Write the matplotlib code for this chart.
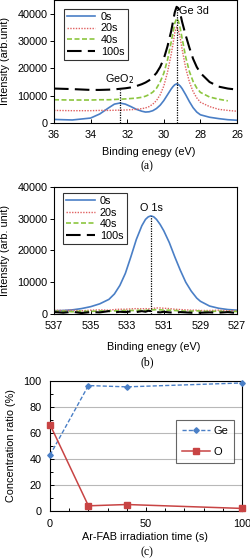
import numpy as np
import matplotlib
matplotlib.use("Agg")
import matplotlib.pyplot as plt
from matplotlib.ticker import MultipleLocator

plt.rcParams['font.family'] = ['Liberation Sans', 'DejaVu Sans']
plt.rcParams['font.size'] = 7.8

# ---- data -------------------------------------------------------------
series_labels = ['0s', '20s', '40s', '100s']

# (a) Ge 3d spectra
ge_x = [36, 35, 34, 33.5, 33, 32.7, 32.4, 32.1, 31.8, 31.5, 31.2, 31, 30.8, 30.6,
        30.4, 30.2, 30, 29.8, 29.6, 29.5, 29.4, 29.3, 29.2, 29.1, 29, 28.8, 28.6,
        28.4, 28.2, 28, 27.5, 27, 26.5, 26]
ge_0s = [1300, 1100, 1800, 3300, 5600, 6900, 7300, 6900, 6000, 5000, 4300, 4000,
         4100, 4500, 5300, 6500, 8200, 10300, 12400, 13300, 14000, 14300, 14100,
         13500, 12600, 10300, 7800, 5600, 4000, 3000, 2100, 1600, 1200, 1000]
ge_20s = [4600, 4500, 4500, 4600, 4600, 4650, 4700, 4750, 4850, 5000, 5250, 5500,
          6000, 6900, 8200, 10300, 13500, 18500, 25000, 28800, 33000, 35100, 33800,
          31000, 27000, 20000, 15000, 11500, 9200, 7600, 6000, 5000, 4600, 4300]
ge_40s = [8500, 8400, 8400, 8500, 8500, 8600, 8700, 8800, 8950, 9100, 9400, 9800,
          10400, 11300, 12700, 15000, 18200, 23000, 29500, 33000, 36500, 38300,
          37200, 34500, 31000, 24000, 18800, 15200, 12800, 11200, 9500, 8700, 8100,
          np.nan]
ge_100s = [12600, 12400, 12100, 12100, 12200, 12300, 12500, 12700, 13000, 13500,
           14200, 14800, 15600, 16800, 18300, 20500, 23500, 28000, 33500, 37000,
           40500, 42500, 42000, 40000, 37000, 32000, 27500, 23500, 20500, 18300,
           15000, 13300, 12600, 12200]
geo2_pos, geo2_top = 32.4, 12000
ge3d_pos, ge3d_top = 29.3, 42500

# (b) O 1s spectra
o_x = [537, 536.5, 536, 535.5, 535, 534.5, 534, 533.7, 533.4, 533.1, 532.8, 532.5,
       532.2, 532, 531.85, 531.7, 531.55, 531.4, 531.2, 531, 530.7, 530.4, 530.1,
       529.8, 529.5, 529.2, 529, 528.5, 528, 527.5, 527]
o_0s = [1000, 1100, 1300, 1700, 2300, 3200, 4600, 6300, 9000, 12800, 18000, 23500,
        27800, 29800, 30600, 30900, 30600, 29800, 28200, 26200, 22500, 18000, 13800,
        10000, 7200, 5000, 4000, 2500, 1800, 1400, 1200]
o_20s = [1200, 1100, 1200, 1000, 1200, 1300, 1200, 1400, 1500, 1500, 1600, 1700,
         1600, 1700, 1600, 1700, 1800, 1900, 1900, 1800, 1700, 1500, 1400, 1300,
         1200, 1200, 1100, 1100, 1200, 1000, 1100]
o_40s = [800, 900, 700, 900, 800, 1000, 900, 1000, 1000, 1100, 1100, 1100,
         1200, 1100, 1200, 1300, 1300, 1400, 1300, 1200, 1200, 1100, 1000, 900,
         900, 1000, 900, 800, 900, 700, 800]
o_100s = [600, 400, 700, 300, 600, 500, 900, 500, 700, 600, 800, 600,
          900, 700, 1000, 900, 700, 600, 500, 700, 500, 400, 600, 500,
          400, 300, 400, 500, 400, 600, 300]
o1s_pos, o1s_top = 531.7, 30900

# (c) concentration ratio
time_s = [0, 20, 40, 100]
ge_ratio = [43, 96.5, 95.5, 98.5]
o_ratio = [66.5, 4, 5, 2]

# ---- styles -----------------------------------------------------------
blue = '#4a7fc6'
red = '#e06060'
green = '#8cc63f'
styles = [
    dict(color=blue, lw=1.2, ls='-'),
    dict(color=red, lw=1.0, ls=(0, (1, 1))),
    dict(color=green, lw=1.2, ls=(0, (3, 1.5))),
    dict(color='black', lw=1.5, ls=(0, (7, 3))),
]

fig = plt.figure(figsize=(2.5, 5.58), dpi=100)

def legend_box(ax, **kw):
    leg = ax.legend(frameon=True, fancybox=False, edgecolor='black',
                    handlelength=2.6, handletextpad=0.5, borderpad=0.3,
                    labelspacing=0.15, borderaxespad=0, **kw)
    leg.get_frame().set_linewidth(0.8)
    return leg

def spectrum_axes(ax):
    for s in ax.spines.values():
        s.set_linewidth(0.8)
    ax.tick_params(axis='y', direction='out', length=3, width=0.7, pad=1.5)
    ax.tick_params(axis='x', direction='in', length=3, width=0.7, pad=5)

# ---- (a) --------------------------------------------------------------
ax_a = fig.add_axes([0.216, 0.7796, 0.732, 0.2204])
for lab, y, st in zip(series_labels, [ge_0s, ge_20s, ge_40s, ge_100s], styles):
    ax_a.plot(ge_x, y, label=lab, **st)
ax_a.plot([geo2_pos, geo2_pos], [0, geo2_top], color='black', lw=0.9, ls=(0, (1, 1)))
ax_a.plot([ge3d_pos, ge3d_pos], [0, ge3d_top], color='black', lw=0.9, ls=(0, (1, 1)))
ax_a.text(geo2_pos, geo2_top + 1500, 'GeO$_2$', ha='center', va='bottom')
ax_a.text(ge3d_pos - 0.15, 41000, 'Ge 3d', ha='left', va='center')
ax_a.set_xlim(36, 26)
ax_a.set_ylim(0, 45000)
ax_a.set_xticks([36, 34, 32, 30, 28, 26])
ax_a.set_yticks([0, 10000, 20000, 30000, 40000])
ax_a.set_xlabel('Binding enegy (eV)')
ax_a.set_ylabel('Intensity (arb.unit)')
ax_a.xaxis.set_label_coords(0.52, -0.195)
ax_a.yaxis.set_label_coords(-0.243, 0.5)
spectrum_axes(ax_a)
legend_box(ax_a, loc='upper left', bbox_to_anchor=(0.055, 0.93))
fig.text(0.588, 1 - 166 / 558, '(a)', ha='center', va='center',
         family='Liberation Serif', fontsize=8.5)

# ---- (b) --------------------------------------------------------------
ax_b = fig.add_axes([0.216, 0.4373, 0.732, 0.2276])
for lab, y, st in zip(series_labels, [o_0s, o_20s, o_40s, o_100s], styles):
    ax_b.plot(o_x, y, label=lab, **st)
ax_b.plot([o1s_pos, o1s_pos], [0, o1s_top], color='black', lw=0.9, ls=(0, (1, 1)))
ax_b.text(o1s_pos, o1s_top + 800, 'O 1s', ha='center', va='bottom')
ax_b.set_xlim(537, 527)
ax_b.set_ylim(0, 40000)
ax_b.set_xticks([537, 535, 533, 531, 529, 527])
ax_b.set_yticks([0, 10000, 20000, 30000, 40000])
ax_b.set_xlabel('Binding enegy (eV)')
ax_b.set_ylabel('Intensity (arb. unit)')
ax_b.xaxis.set_label_coords(0.545, -0.22)
ax_b.yaxis.set_label_coords(-0.238, 0.5)
spectrum_axes(ax_b)
legend_box(ax_b, loc='upper left', bbox_to_anchor=(0.05, 0.955))
fig.text(0.588, 1 - 362 / 558, '(b)', ha='center', va='center',
         family='Liberation Serif', fontsize=8.5)

# ---- (c) --------------------------------------------------------------
ax_c = fig.add_axes([0.2, 0.0842, 0.768, 0.233])
ax_c.yaxis.grid(True, color='#b8b8b8', lw=0.8)
ax_c.set_axisbelow(True)
ax_c.plot(time_s, ge_ratio, color=blue, lw=1.0, ls=(0, (3, 1.5)), marker='D',
          ms=2.8, label='Ge', clip_on=False, zorder=3)
ax_c.plot(time_s, o_ratio, color='#c84444', lw=1.1, marker='s', ms=4,
          label='O', clip_on=False, zorder=3)
ax_c.set_xlim(0, 100)
ax_c.set_ylim(0, 100)
ax_c.xaxis.set_major_locator(MultipleLocator(50))
ax_c.xaxis.set_minor_locator(MultipleLocator(10))
ax_c.yaxis.set_major_locator(MultipleLocator(20))
ax_c.yaxis.set_minor_locator(MultipleLocator(10))
ax_c.tick_params(which='both', direction='in', width=0.7)
ax_c.tick_params(which='major', length=3)
ax_c.tick_params(which='minor', length=2)
ax_c.tick_params(axis='x', pad=6)
ax_c.tick_params(axis='y', pad=6)
for s in ax_c.spines.values():
    s.set_linewidth(0.8)
ax_c.set_xlabel('Ar-FAB irradiation time (s)')
ax_c.set_ylabel('Concentration ratio (%)')
ax_c.xaxis.set_label_coords(0.495, -0.16)
ax_c.yaxis.set_label_coords(-0.177, 0.5)
leg = ax_c.legend(loc='upper left', bbox_to_anchor=(0.656, 0.70), frameon=True,
                  fancybox=False, edgecolor='#404040', handlelength=2.5,
                  handletextpad=0.3, borderpad=0.55, labelspacing=1.0,
                  borderaxespad=0, fontsize=8)
leg.get_frame().set_linewidth(0.8)
fig.text(0.588, 1 - 552 / 558, '(c)', ha='center', va='center',
         family='Liberation Serif', fontsize=8.5)

fig.savefig('out.png', dpi=100)
